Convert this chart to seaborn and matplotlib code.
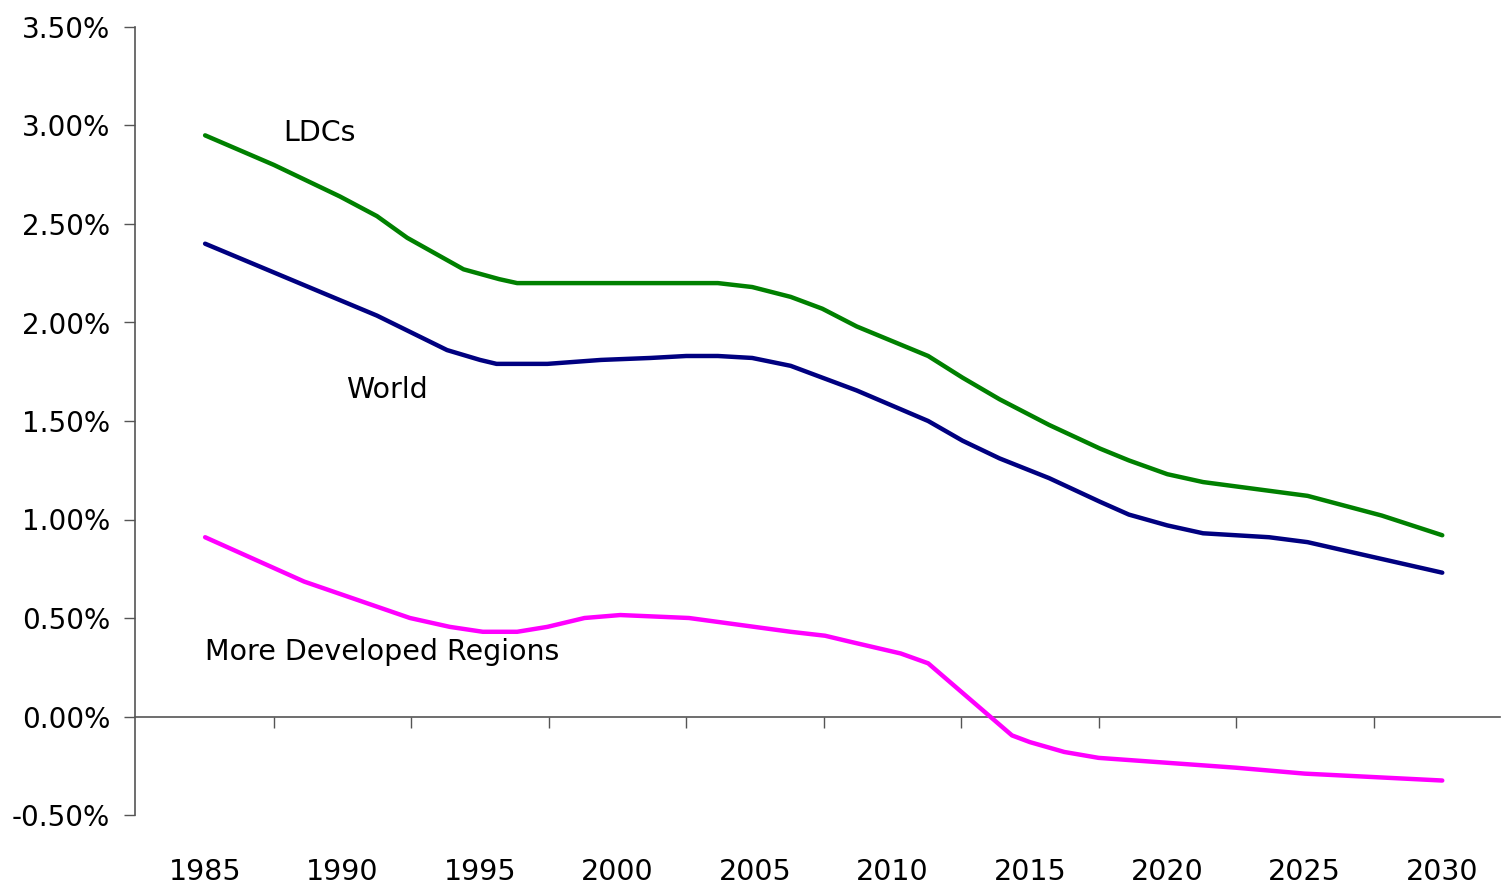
import matplotlib
matplotlib.use("Agg")
import matplotlib.pyplot as plt
import matplotlib.ticker as mticker
import pandas as pd
import seaborn as sns

# values (annual growth rate, %)
ldc_years = [1985, 1987.5, 1989.9, 1991.25, 1992.35, 1994.4, 1995.7, 1996.35, 2003.65,
             2004.9, 2006.3, 2007.45, 2008.7, 2011.3, 2012.55, 2013.9, 2015.7, 2017.55,
             2018.6, 2020, 2021.3, 2025.1, 2027.8, 2030]
ldc_rate = [2.95, 2.80, 2.64, 2.54, 2.43, 2.27, 2.22, 2.20, 2.20,
            2.18, 2.13, 2.07, 1.98, 1.83, 1.72, 1.61, 1.48, 1.36,
            1.30, 1.23, 1.19, 1.12, 1.02, 0.92]

world_years = [1985, 1991.25, 1993.8, 1995, 1995.6, 1997.45, 1999.4, 2001.2, 2002.5,
               2003.65, 2004.9, 2006.3, 2007.45, 2008.7, 2011.3, 2012.55, 2013.9,
               2015.7, 2017.55, 2018.6, 2020, 2021.3, 2023.7, 2025.1, 2030]
world_rate = [2.40, 2.035, 1.86, 1.81, 1.79, 1.79, 1.81, 1.82, 1.83,
              1.83, 1.82, 1.78, 1.72, 1.655, 1.50, 1.40, 1.31,
              1.21, 1.09, 1.025, 0.97, 0.93, 0.91, 0.885, 0.73]

mdr_years = [1985, 1988.6, 1992.45, 1993.9, 1995.1, 1996.35, 1997.45, 1998.8, 2000.1,
             2002.6, 2006.3, 2007.55, 2008.45, 2010.3, 2011.3, 2014.35, 2015, 2016.25,
             2017.5, 2022.5, 2025, 2030]
mdr_rate = [0.91, 0.685, 0.50, 0.455, 0.43, 0.43, 0.455, 0.50, 0.515,
            0.50, 0.43, 0.41, 0.38, 0.32, 0.27, -0.096, -0.13, -0.18,
            -0.21, -0.26, -0.29, -0.325]

series_names = ["LDCs", "World", "More Developed Regions"]
series_colors = ["#008000", "#000080", "#FF00FF"]
label_years = [1985, 1990, 1995, 2000, 2005, 2010, 2015, 2020, 2025, 2030]
y_ticks = [-0.5, 0.0, 0.5, 1.0, 1.5, 2.0, 2.5, 3.0, 3.5]

df = pd.concat([
    pd.DataFrame({"year": ldc_years, "rate": ldc_rate, "series": series_names[0]}),
    pd.DataFrame({"year": world_years, "rate": world_rate, "series": series_names[1]}),
    pd.DataFrame({"year": mdr_years, "rate": mdr_rate, "series": series_names[2]}),
])

sns.set_theme(style="white")
plt.rcParams["font.family"] = ["DejaVu Sans"]
plt.rcParams["text.color"] = "black"

fig = plt.figure(figsize=(15.01, 8.88), dpi=100)
ax = fig.add_axes([135 / 1501, 73 / 888, 1365 / 1501, 788 / 888])

sns.lineplot(data=df, x="year", y="rate", hue="series", hue_order=series_names,
             palette=series_colors, linewidth=3.2, legend=False, ax=ax,
             solid_capstyle="round", sort=False)

ymin, ymax = -0.5, 3.5
ax.set_ylim(ymin, ymax)
ax.set_xlim(1982.45, 2032.1)
ax.set_xlabel("")
ax.set_ylabel("")

ax.set_yticks(y_ticks)
ax.yaxis.set_major_formatter(mticker.FuncFormatter(lambda v, p: f"{v:.2f}%"))
ax.tick_params(axis="y", direction="out", length=8, width=1, color="#555555",
               pad=10, labelsize=20, labelcolor="black", left=True)

ax.set_xticks(label_years)
ax.tick_params(axis="x", length=0, pad=31, labelsize=20.5, labelcolor="black")

for side in ["top", "right", "bottom"]:
    ax.spines[side].set_visible(False)
ax.spines["left"].set_color("#555555")
ax.spines["left"].set_linewidth(1.2)

# category axis crossing at zero, ticks between the labels
zero_pos = (0 - ymin) / (ymax - ymin)
secax = ax.secondary_xaxis(zero_pos)
secax.set_xticks([1987.5 + 5 * k for k in range(9)])
secax.tick_params(axis="x", direction="out", length=8, width=1, color="#555555",
                  labelbottom=False, labeltop=False)
secax.spines["bottom"].set_color("#555555")
secax.spines["bottom"].set_linewidth(1.2)

ax.text(1989.15, 2.96, "LDCs", fontsize=20.5, color="black", ha="center", va="center")
ax.text(1991.6, 1.655, "World", fontsize=20.5, color="black", ha="center", va="center")
ax.text(1985.0, 0.325, "More Developed Regions", fontsize=20.5, color="black",
        ha="left", va="center")

fig.savefig("out.png", dpi=100)
